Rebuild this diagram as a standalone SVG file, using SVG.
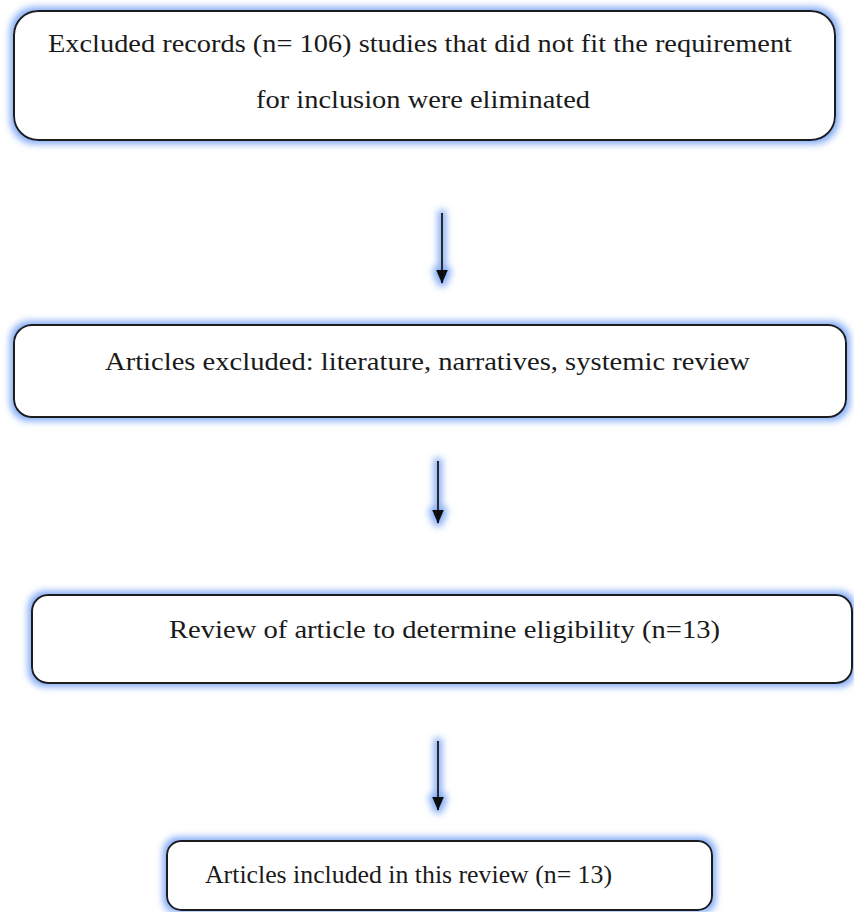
<svg xmlns="http://www.w3.org/2000/svg" width="854" height="912" viewBox="0 0 854 912">
<style>
.box{fill:#ffffff;stroke:#1e1e1e;stroke-width:2}
.lbl{font-family:"Liberation Serif","Times New Roman",serif;font-size:26px;fill:#1a1a1a}
.conn{stroke:#2a2a2a;stroke-width:2;fill:none}
</style>
<defs>
<filter id="glow" filterUnits="userSpaceOnUse" x="0" y="0" width="854" height="912">
<feMorphology in="SourceAlpha" operator="dilate" radius="3" result="d"/>
<feGaussianBlur in="d" stdDeviation="3.5" result="b"/>
<feFlood flood-color="#82aaf5"/>
<feComposite in2="b" operator="in" result="g"/>
<feMerge><feMergeNode in="g"/><feMergeNode in="SourceGraphic"/></feMerge>
</filter>
<marker id="head" viewBox="0 0 14 12" refX="13" refY="6" markerWidth="14" markerHeight="12" markerUnits="userSpaceOnUse" orient="auto">
<path d="M0,0 L14,6 L0,12 Z" fill="#111"/>
</marker>
</defs>
<rect width="854" height="912" fill="#ffffff"/>
<g id="connectors" filter="url(#glow)">
<line class="conn" x1="442" y1="213" x2="442" y2="283" marker-end="url(#head)"/>
<line class="conn" x1="438" y1="461" x2="438" y2="523" marker-end="url(#head)"/>
<line class="conn" x1="438" y1="741" x2="438" y2="810" marker-end="url(#head)"/>
</g>
<g id="excluded-records">
<rect class="box" x="14" y="11" width="821" height="129" rx="24" filter="url(#glow)"/>
<text class="lbl" x="48" y="52" textLength="744" lengthAdjust="spacingAndGlyphs">Excluded records (n= 106) studies that did not fit the requirement</text>
<text class="lbl" x="256" y="108" textLength="334" lengthAdjust="spacingAndGlyphs">for inclusion were eliminated</text>
</g>
<g id="articles-excluded">
<rect class="box" x="14" y="325" width="832" height="92" rx="18" filter="url(#glow)"/>
<text class="lbl" x="105" y="370" textLength="645" lengthAdjust="spacingAndGlyphs">Articles excluded: literature, narratives, systemic review</text>
</g>
<g id="review-eligibility">
<rect class="box" x="32" y="595" width="820" height="88" rx="16" filter="url(#glow)"/>
<text class="lbl" x="169" y="638" textLength="551" lengthAdjust="spacingAndGlyphs">Review of article to determine eligibility (n=13)</text>
</g>
<g id="articles-included">
<rect class="box" x="167" y="841" width="545" height="69" rx="14" filter="url(#glow)"/>
<text class="lbl" x="205" y="883" textLength="407" lengthAdjust="spacingAndGlyphs" style="font-size:25px">Articles included in this review (n= 13)</text>
</g>
</svg>
